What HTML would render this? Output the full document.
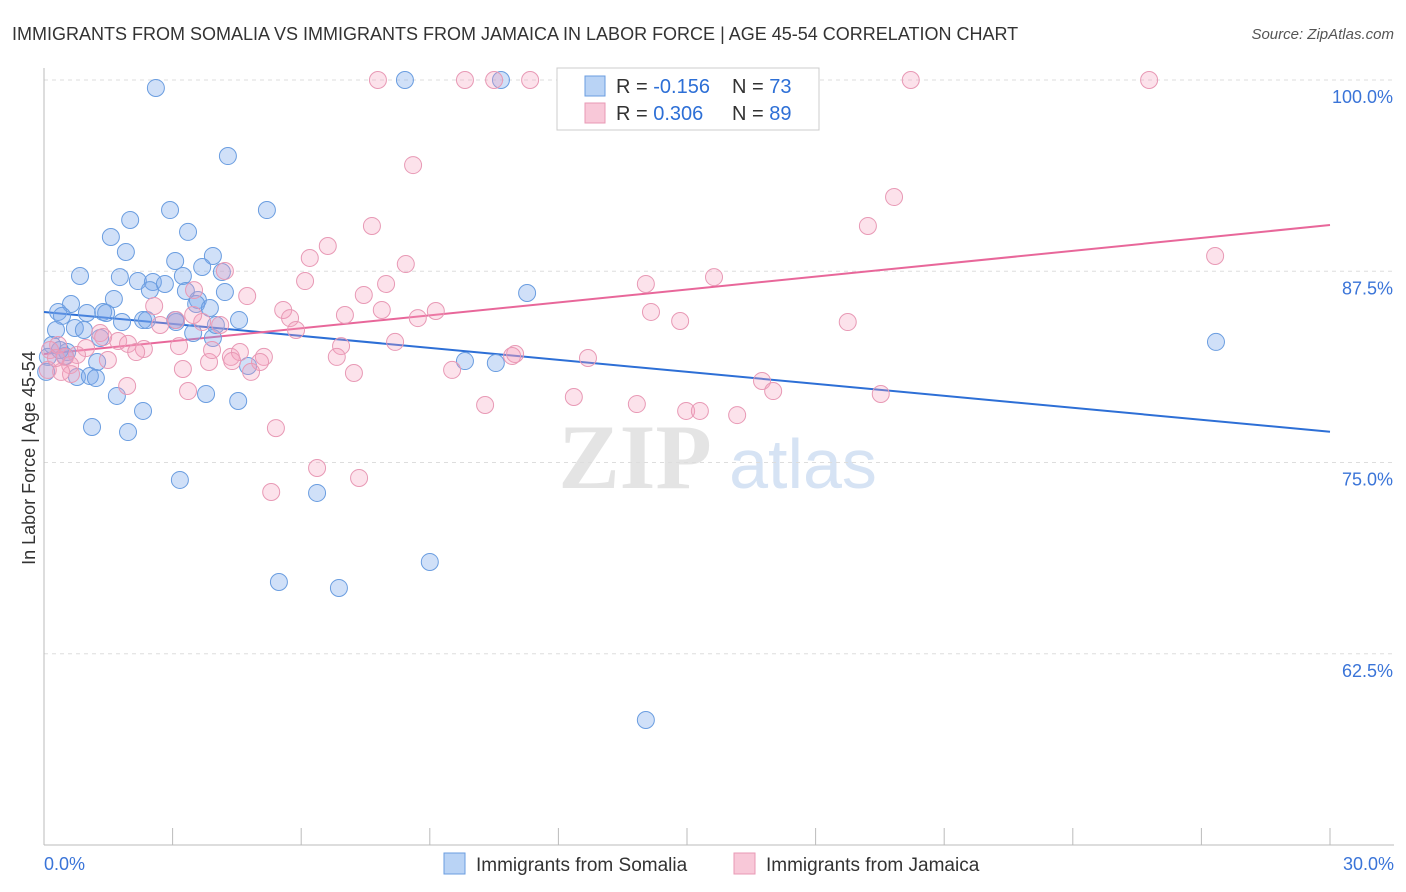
<!DOCTYPE html>
<html><head><meta charset="utf-8">
<style>
body{margin:0;background:#fff;font-family:"Liberation Sans",sans-serif;}
#wrap{position:relative;width:1406px;height:892px;overflow:hidden;}
</style></head>
<body><div id="wrap">
<svg id="chart" width="1406" height="892" xmlns="http://www.w3.org/2000/svg">
<text x="12" y="40" font-size="18" fill="#333">IMMIGRANTS FROM SOMALIA VS IMMIGRANTS FROM JAMAICA IN LABOR FORCE | AGE 45-54 CORRELATION CHART</text>
<text x="1394" y="39" font-size="15" fill="#555" font-style="italic" text-anchor="end">Source: ZipAtlas.com</text>
<text x="35" y="458" font-size="18" fill="#333" text-anchor="middle" transform="rotate(-90 35 458)">In Labor Force | Age 45-54</text>
<g><text x="635" y="488" font-size="92" fill="#e4e4e4" font-family="Liberation Serif" text-anchor="middle" font-weight="bold">ZIP</text><text x="803" y="488" font-size="70" fill="#d6e3f4" text-anchor="middle">atlas</text></g>
<g id="grid"></g><g id="axes"></g><g id="lines"></g><g id="pts"></g>
<g>
<rect x="557" y="68" width="262" height="62" fill="#fff" stroke="#ccc"/>
<rect x="585" y="76" width="20" height="20" fill="#b9d3f5" stroke="#6a9de0"/>
<rect x="585" y="103" width="20" height="20" fill="#f8c8d8" stroke="#e899b5"/>
<text x="616" y="93" font-size="20" fill="#333">R = <tspan fill="#2d6fd6">-0.156</tspan></text>
<text x="732" y="93" font-size="20" fill="#333">N = <tspan fill="#2d6fd6">73</tspan></text>
<text x="616" y="120" font-size="20" fill="#333">R = <tspan fill="#2d6fd6"> 0.306</tspan></text>
<text x="732" y="120" font-size="20" fill="#333">N = <tspan fill="#2d6fd6">89</tspan></text>
</g>
<g>
<rect x="444" y="853" width="21" height="21" fill="#b9d3f5" stroke="#6a9de0"/>
<text x="476" y="871" font-size="19" fill="#333">Immigrants from Somalia</text>
<rect x="734" y="853" width="21" height="21" fill="#f8c8d8" stroke="#e899b5"/>
<text x="766" y="871" font-size="19" fill="#333">Immigrants from Jamaica</text>
</g>
</svg></div>
<script>
const xTicks=[0,3,6,9,12,15,18,21,24,27,30];
const yTicks=[100,87.5,75,62.5];
const yTickLabels=["100.0%","87.5%","75.0%","62.5%"];
const xEndLabels=["0.0%","30.0%"];
const somaliaX=[2.61,8.42,10.66,4.29,5.20,2.94,2.01,3.36,1.56,1.91,3.94,3.06,3.69,0.84,1.77,4.15,2.19,2.54,2.82,3.24,4.22,3.31,1.63,3.59,3.55,0.63,2.47,11.27,0.33,1.00,1.38,1.45,1.82,2.31,2.40,3.08,4.55,0.42,0.28,0.72,0.93,3.48,3.94,1.31,27.34,0.19,0.54,0.49,1.24,4.76,9.82,10.54,0.05,0.77,1.07,1.21,1.70,3.78,4.53,2.31,1.12,1.96,3.17,6.37,9.00,5.48,6.88,14.04,0.09,0.37,3.87,4.01,3.06];
const somaliaY=[99.48,100,100,95.03,91.50,91.50,90.85,90.07,89.74,88.76,88.50,88.17,87.78,87.19,87.12,87.45,86.86,86.80,86.67,87.19,86.14,86.21,85.69,85.62,85.36,85.36,86.27,86.08,84.84,84.77,84.84,84.77,84.18,84.31,84.31,84.18,84.31,84.58,83.66,83.79,83.66,83.46,83.14,83.14,82.88,82.68,82.22,81.96,81.57,81.31,81.63,81.50,80.92,80.59,80.65,80.52,79.35,79.48,79.02,78.37,77.32,76.99,73.86,73.01,68.50,67.19,66.80,58.17,81.90,82.35,85.10,83.99,84.31];
const jamaicaX=[7.79,9.82,10.50,11.34,20.22,25.78,8.61,19.83,7.65,19.22,6.62,6.20,27.32,8.44,4.22,6.09,7.98,14.04,15.63,4.74,3.50,7.46,2.57,5.58,7.88,9.14,14.16,7.02,8.72,5.74,5.88,14.84,18.75,3.69,4.11,2.71,3.08,1.31,1.73,1.96,2.33,3.15,1.38,0.98,8.19,6.93,0.33,0.14,0.77,0.49,0.61,1.49,3.85,4.36,4.57,5.13,5.04,4.39,4.83,6.83,10.99,10.92,12.69,9.52,7.23,3.24,0.63,1.94,3.36,16.75,17.01,12.36,10.29,13.83,14.98,15.30,16.17,19.52,5.41,6.37,7.35,5.30,0.09,0.40,2.15,3.92,0.28,3.48];
const jamaicaY=[100,100,100,100,100,100,94.44,92.35,90.46,90.46,89.15,88.37,88.50,87.97,87.52,86.86,86.67,86.67,87.12,85.88,86.27,85.95,85.23,84.97,84.97,84.90,84.84,84.64,84.44,84.44,83.66,84.25,84.18,84.18,83.99,83.99,84.31,83.46,82.94,82.75,82.42,82.61,83.20,82.48,82.88,82.61,82.68,82.35,82.03,81.90,81.37,81.70,81.57,81.90,82.22,81.90,81.57,81.63,80.92,81.90,82.09,81.96,81.83,81.05,80.85,81.11,80.78,80.00,79.67,80.33,79.67,79.28,78.76,78.82,78.37,78.37,78.10,79.48,77.25,74.64,73.99,73.07,81.05,80.92,82.22,82.35,81.83,84.64];
const trendIntercepts=[84.84,82.09];
const trendSlopes=[-0.261,0.281];

const X=v=>44+v/30*1286, Y=v=>80+(100-v)/50*765;
const NS='http://www.w3.org/2000/svg';
function mk(tag,attrs,parent){const e=document.createElementNS(NS,tag);for(const k in attrs)e.setAttribute(k,attrs[k]);document.getElementById(parent).appendChild(e);return e;}
yTicks.forEach((t,i)=>{
 const l=mk('line',{x1:44,x2:1394,y1:Y(t),y2:Y(t),stroke:'#ddd','stroke-dasharray':'4,4'},'grid');
 
 
 const tx=mk('text',{x:1393,y:Y(t)+23,'font-size':18,fill:'#3a74d8','text-anchor':'end'},'axes');
 tx.textContent=yTickLabels[i];
 
 
});
const ax=mk('line',{x1:44,x2:44,y1:68,y2:Y(50),stroke:'#bbb'},'axes');


const bx=mk('line',{x1:44,x2:1394,y1:Y(50),y2:Y(50),stroke:'#bbb'},'axes');


xTicks.forEach(t=>{
 const l=mk('line',{x1:X(t),x2:X(t),y1:Y(50),y2:Y(50)-17,stroke:'#bbb'},'axes');
 
 
});
[[0,'start',44],[30,'end',1394]].forEach((d,i)=>{
 const tx=mk('text',{x:d[2],y:870,'font-size':18,fill:'#3a74d8','text-anchor':d[1]},'axes');
 tx.textContent=xEndLabels[i];
 
 
});
function pts(xs,ys,fill,stroke,name){xs.forEach((x,i)=>{
 const c=mk('circle',{cx:X(x),cy:Y(ys[i]),r:8.5,fill:fill,stroke:stroke,'stroke-width':1},'pts');
 
 
});}
pts(somaliaX,somaliaY,'rgba(120,165,235,0.35)','#6a9de0','point-somalia');
pts(jamaicaX,jamaicaY,'rgba(245,160,190,0.3)','#e899b5','point-jamaica');
['#2d6fd6','#e8679a'].forEach((col,i)=>{
 const l=mk('line',{x1:X(0),y1:Y(trendIntercepts[i]),x2:X(30),y2:Y(trendIntercepts[i]+trendSlopes[i]*30),stroke:col,'stroke-width':2},'lines');
 
 
});
</script></body></html>
